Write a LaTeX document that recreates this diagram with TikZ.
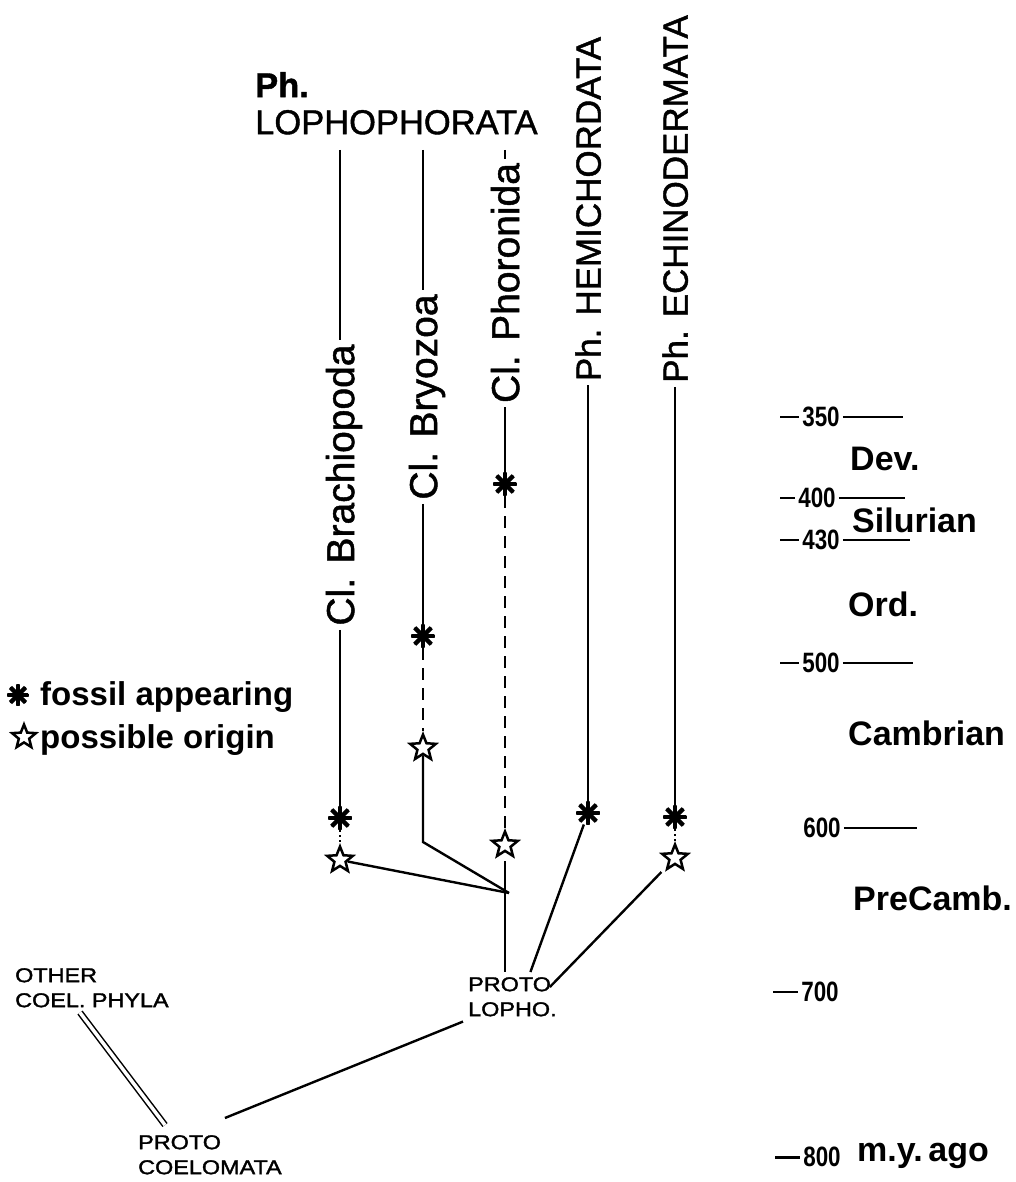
\documentclass[tikz,border=0pt]{standalone}
\usepackage{fontspec}
\setmainfont{Liberation Sans}
\newfontfamily\medfont[FakeBold=1.2]{Liberation Sans}
\newfontfamily\smallfont[FakeBold=1.6]{Liberation Sans}
\usetikzlibrary{shapes.geometric,calc}
\pgfdeclarelayer{bg}
\pgfsetlayers{bg,main}
\newcommand{\xw}[1]{\scalebox{1.17}[1]{#1}}
\newcommand{\nw}[1]{\scalebox{0.8}[1]{#1}}
\tikzset{
 conn/.style={line width=2.4pt},
 dashline/.style={conn, dash pattern=on 12pt off 8pt},
 dotline/.style={line width=2pt, dash pattern=on 1.5pt off 3.5pt},
 tick/.style={line width=2pt},
 vlab/.style={rotate=90, inner sep=4pt, text depth=0pt},
 clab/.style={vlab, font=\medfont\fontsize{39}{44}\selectfont},
 plab/.style={vlab, font=\medfont\fontsize{35}{40}\selectfont},
 fossil/.style={circle, minimum size=24pt, inner sep=0pt, fill=white,
   path picture={
     \foreach \p/\q in {north/south,east/west,north east/south west,north west/south east}
       \draw[black,line width=4.4pt] (path picture bounding box.\p) -- (path picture bounding box.\q);
     \fill[black] (path picture bounding box.center) circle (5pt);}},
 origin/.style={star, star points=5, star point ratio=2.3, minimum size=27pt,
   inner sep=0pt, draw, line width=2.5pt, fill=white},
 num/.style={inner sep=3pt, font=\fontsize{28}{30}\selectfont\bfseries},
 era/.style={inner sep=0pt, anchor=base west, font=\fontsize{34}{38}\selectfont\bfseries},
 small/.style={align=left, inner sep=5pt, anchor=north west, font=\smallfont\fontsize{20}{25}\selectfont},
 legend/.style={inner sep=0pt, anchor=base west, font=\fontsize{33}{38}\selectfont\bfseries},
}
\begin{document}
\begin{tikzpicture}[x=1pt,y=-1pt]
\useasboundingbox[fill=white] (0,0) rectangle (1015,1182);

% title
\node[anchor=north west, inner sep=0pt, align=left, font=\medfont\fontsize{34.5}{37}\selectfont] (title) at (255,72) {\textbf{Ph.}\\LOPHOPHORATA};

% vertical labels
\node[clab] (brachLab) at (340,485) {Cl. Brachiopoda};
\node[clab] (bryLab) at (423,397) {Cl. Bryozoa};
\node[clab] (phoLab) at (505,283) {Cl. Phoronida};
\node[plab] (hemLab) at (588,209) {Ph. HEMICHORDATA};
\node[plab] (echLab) at (675,199) {Ph. ECHINODERMATA};

% symbols
\node[fossil] (brachAst) at (340,818) {};
\node[origin] (brachStar) at (340,860) {};
\node[fossil] (bryAst) at (423,636) {};
\node[origin] (bryStar) at (423,748) {};
\node[fossil] (phoAst) at (505,484) {};
\node[origin] (phoStar) at (505,845) {};
\node[fossil] (hemAst) at (588,813) {};
\node[fossil] (echAst) at (675,817) {};
\node[origin] (echStar) at (675,858) {};

% small labels
\node[small] (pl) at (463,972) {\xw{PROTO}\\\xw{LOPHO.}};
\node[small] (pc) at (133,1130) {\xw{PROTO}\\\xw{COELOMATA}};
\node[small] (oc) at (10,963) {\xw{OTHER}\\\xw{COEL. PHYLA}};

% legend
\node[fossil, minimum size=22pt] (legAst) at (18,695) {};
\node[legend] (legF) at (40,705) {fossil appearing};
\node[origin, minimum size=25pt] (legStar) at (24,737) {};
\node[legend] (legO) at (40,748) {possible origin};

% time scale
\foreach \v/\x/\y/\l/\r in {350/821/417/780/903, 400/817/498/780/905, 430/821/540/780/910, 500/821/663/780/913}{
  \node[num] (n\v) at (\x,\y) {\nw{\v}};
  \coordinate (l\v) at (\l,\y);
  \coordinate (r\v) at (\r,\y);
  \draw[tick] (l\v) -- (n\v);
  \draw[tick] (n\v) -- (r\v);
}
\node[num] (n600) at (822,828) {\nw{600}};
\coordinate (r600) at (917,828);
\draw[tick] (n600) -- (r600);
\node[num] (n700) at (820,992) {\nw{700}};
\coordinate (l700) at (773,992);
\draw[tick] (l700) -- (n700);
\node[num] (n800) at (822,1157) {\nw{800}};
\coordinate (l800) at (775,1157);
\draw[tick,line width=3pt] (l800) -- (n800);

\node[era] (dev) at (850,470) {Dev.};
\node[era] (sil) at (852,532) {Silurian};
\node[era] (ord) at (848,616) {Ord.};
\node[era] (cam) at (848,745) {Cambrian};
\node[era] (pre) at (853,910) {PreCamb.};
\node[era] (mya) at (857,1161) {m.y.\,ago};

% horizontal 600 line (behind symbols)
\coordinate (h0) at (212,829);
\coordinate (g1) at (415,829);
\coordinate (g2) at (431,829);
\coordinate (g3) at (497,829);
\coordinate (g4) at (513,829);
\begin{pgfonlayer}{bg}
\draw[conn] (h0) -- (g1);
\draw[conn] (g2) -- (g3);
\draw[conn] (g4) -- (n600);
\end{pgfonlayer}

% top ends
\coordinate (brachTop) at (340,150);
\coordinate (bryTop) at (423,150);
\coordinate (phoTop) at (505,150);
\coordinate (bryBend) at (423,842);
\coordinate (junc) at (509,893);

% Brachiopoda
\draw[conn] (brachTop) -- (brachLab);
\draw[conn] (brachLab) -- (brachAst);
\draw[dotline] (brachAst) -- (brachStar);
\draw[conn] (brachStar) -- (junc);
% Bryozoa
\draw[conn] (bryTop) -- (bryLab);
\draw[conn] (bryLab) -- (bryAst);
\draw[dashline] (bryAst) -- (bryStar);
\draw[conn] (bryStar) -- (bryBend) -- (junc);
% Phoronida
\draw[conn] (phoTop) -- (phoLab);
\draw[conn] (phoLab) -- (phoAst);
\draw[dashline] (phoAst) -- (phoStar);
\draw[conn, shorten <=9pt] (phoStar) -- (phoStar |- pl.north);
% Hemichordata
\draw[conn] (hemLab) -- (hemAst);
\draw[conn] (hemAst) -- ($(pl.north)+(18,0)$);
% Echinodermata
\draw[conn] (echLab) -- (echAst);
\draw[dotline] (echAst) -- (echStar);
\draw[conn, shorten <=7pt] (echStar) -- ($(pl.north east)+(-12,15)$);
% Proto coelomata
\draw[conn] ($(pc.north)+(15,-12)$) -- (pl.south west);
\draw[line width=1.5pt, double, double distance=3.5pt] ($(oc.south west)+(70,0)$) -- ($(pc.north west)+(32,-5)$);
\end{tikzpicture}
\end{document}
